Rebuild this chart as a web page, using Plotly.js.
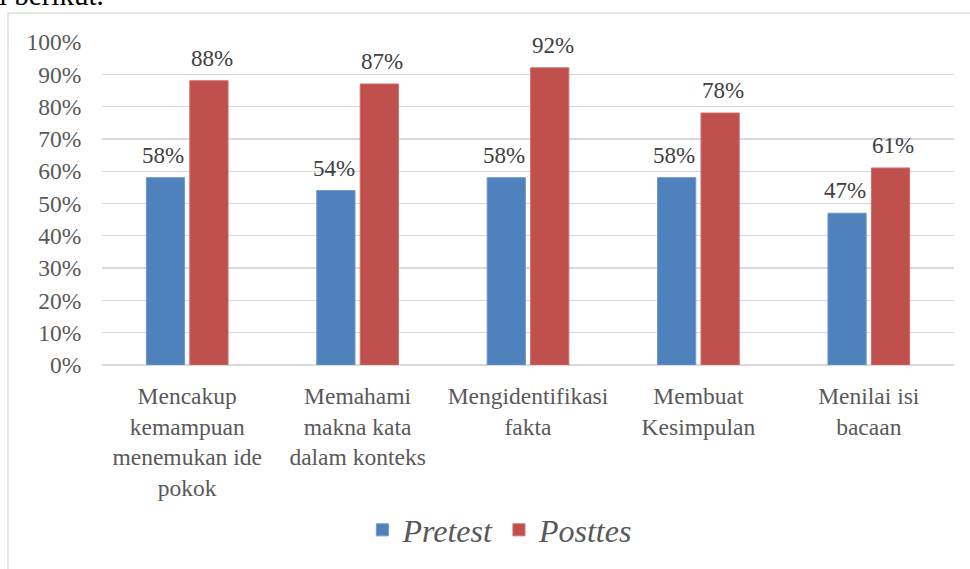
<!DOCTYPE html>
<html>
<head>
<meta charset="utf-8">
<script src="https://cdn.plot.ly/plotly-3.0.1.min.js"></script>
<style>
html,body{margin:0;padding:0;background:#fff;}
#chart{width:970px;height:569px;}
</style>
</head>
<body>
<div id="chart"></div>
<script>
var categories = [
  "Mencakup<br>kemampuan<br>menemukan ide<br>pokok",
  "Memahami<br>makna kata<br>dalam konteks",
  "Mengidentifikasi<br>fakta",
  "Membuat<br>Kesimpulan",
  "Menilai isi<br>bacaan"
];
var pretest = [0.58, 0.54, 0.58, 0.58, 0.47];
var posttes = [0.88, 0.87, 0.92, 0.78, 0.61];
var seriesNames = ["Pretest", "Posttes"];
var yTickVals = [0, 0.1, 0.2, 0.3, 0.4, 0.5, 0.6, 0.7, 0.8, 0.9, 1.0];

var serif = "Liberation Serif";

var traces = [
  {type: "bar", name: seriesNames[0], x: categories, y: pretest,
   marker: {color: "#4f81bd", line: {color: "#6f97cc", width: 1}}, hoverinfo: "none"},
  {type: "bar", name: seriesNames[1], x: categories, y: posttes,
   marker: {color: "#c0504d", line: {color: "#cf6b68", width: 1}}, hoverinfo: "none"}
];

var annotations = [];
var shifts = [-24, 24.5];
[pretest, posttes].forEach(function (vals, s) {
  vals.forEach(function (v, i) {
    annotations.push({
      x: categories[i], y: v, xref: "x", yref: "y",
      text: Math.round(v * 100) + "%", showarrow: false,
      xanchor: "center", yanchor: "bottom", xshift: shifts[s], yshift: 8,
      font: {family: serif, size: 23, color: "#404040"}
    });
  });
});
annotations.push({
  x: -0.123, y: 1.145, xref: "paper", yref: "paper", xanchor: "left", yanchor: "middle",
  text: "i berikut.", showarrow: false,
  font: {family: serif, size: 29, color: "#000000"}
});

var layout = {
  width: 970, height: 569,
  margin: {l: 102, r: 16, t: 42, b: 202},
  paper_bgcolor: "#ffffff", plot_bgcolor: "#ffffff",
  font: {family: serif},
  barmode: "group", bargap: 0.49, bargroupgap: 0.12,
  showlegend: true,
  legend: {orientation: "h", x: 0.467, xanchor: "center", y: -0.511, yanchor: "middle",
           font: {family: serif, size: 32, color: "#595959", style: "italic"},
           itemwidth: 30, traceorder: "normal"},
  xaxis: {type: "category", showgrid: false, showline: false, zeroline: false,
          ticks: "outside", ticklen: 10, tickcolor: "rgba(0,0,0,0)",
          tickfont: {family: serif, size: 23.5, color: "#595959"}},
  yaxis: {range: [0, 1], tickvals: yTickVals, tickformat: ".0%",
          showgrid: true, gridcolor: "#d9d9d9", gridwidth: 1.3,
          zeroline: true, zerolinecolor: "#d9d9d9", zerolinewidth: 1.3,
          showline: false, ticks: "outside", ticklen: 15, tickcolor: "rgba(0,0,0,0)",
          tickfont: {family: serif, size: 23.5, color: "#595959"}},
  annotations: annotations,
  shapes: [{type: "rect", xref: "paper", yref: "paper",
            x0: -0.1103, x1: 1.2, y0: -1.0, y1: 1.0892,
            line: {color: "#d9d9d9", width: 1.3}, fillcolor: "rgba(0,0,0,0)", layer: "below"}]
};

Plotly.newPlot("chart", traces, layout, {displayModeBar: false, staticPlot: true});
</script>
</body>
</html>
